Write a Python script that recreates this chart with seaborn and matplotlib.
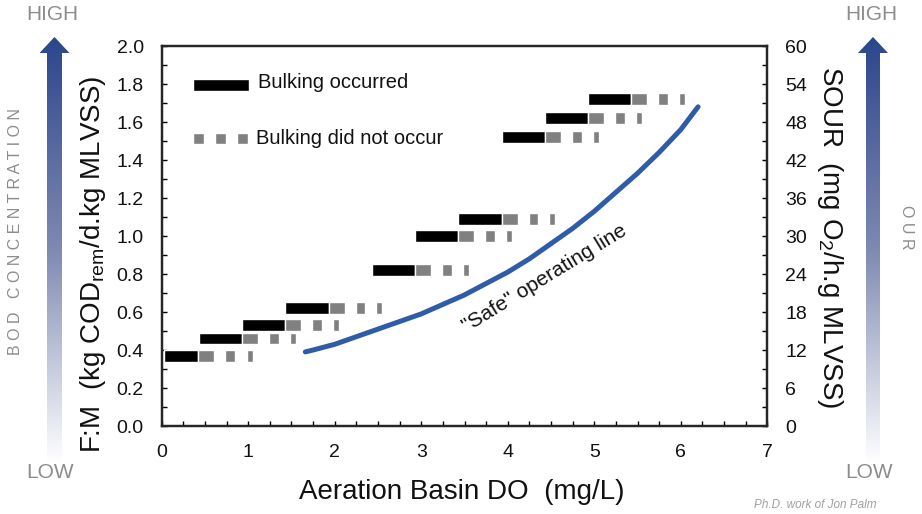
import numpy as np
import pandas as pd
import matplotlib
matplotlib.use('Agg')
import matplotlib.pyplot as plt
import seaborn as sns
from matplotlib.colors import LinearSegmentedColormap
from matplotlib.patches import Polygon
from matplotlib.ticker import MultipleLocator, FormatStrFormatter

# ---------------- data ----------------
fm_levels = [0.37, 0.46, 0.53, 0.62, 0.82, 1.00, 1.09, 1.52, 1.62, 1.72]
bulk_start = [0.03, 0.43, 0.93, 1.43, 2.43, 2.93, 3.43, 3.93, 4.43, 4.93]
bulk_end = [0.42, 0.93, 1.43, 1.93, 2.93, 3.43, 3.93, 4.43, 4.93, 5.43]
nobulk_end = [1.05, 1.55, 2.05, 2.55, 3.55, 4.05, 4.55, 5.05, 5.55, 6.05]

safe_do = [1.66, 1.75, 2.0, 2.25, 2.5, 2.75, 3.0, 3.25, 3.5, 3.75, 4.0, 4.25,
           4.5, 4.75, 5.0, 5.25, 5.5, 5.75, 6.0, 6.2]
safe_fm = [0.39, 0.40, 0.43, 0.47, 0.51, 0.55, 0.59, 0.64, 0.69, 0.75, 0.81, 0.88,
           0.96, 1.04, 1.13, 1.23, 1.33, 1.44, 1.56, 1.68]

x_ticks = [0, 1, 2, 3, 4, 5, 6, 7]
fm_ticks = [0.0, 0.2, 0.4, 0.6, 0.8, 1.0, 1.2, 1.4, 1.6, 1.8, 2.0]
sour_ticks = [0, 6, 12, 18, 24, 30, 36, 42, 48, 54, 60]

# ---------------- style ----------------
sns.set_style('ticks')
plt.rcParams['font.family'] = ['Liberation Sans', 'DejaVu Sans']
plt.rcParams['mathtext.fontset'] = 'custom'
plt.rcParams['mathtext.rm'] = 'Liberation Sans'
plt.rcParams['mathtext.it'] = 'Liberation Sans:italic'
plt.rcParams['mathtext.default'] = 'regular'

W, H = 922, 514
fig = plt.figure(figsize=(W / 100, H / 100), dpi=100)
fig.patch.set_facecolor('white')

# background axes in pixel coordinates for decorations
bg = fig.add_axes([0, 0, 1, 1], zorder=-1)
bg.set_xlim(0, W)
bg.set_ylim(H, 0)
bg.axis('off')

cmap = LinearSegmentedColormap.from_list('arrow', ['#2A468C', '#7F8AB2', '#FFFFFF'])
grad = np.linspace(0, 1, 256)[:, None]


def gradient_arrow(cx, shaft_w, head_w, tip, head_base, bottom):
    pts = [(cx - shaft_w / 2, bottom), (cx - shaft_w / 2, head_base),
           (cx - head_w / 2, head_base), (cx, tip), (cx + head_w / 2, head_base),
           (cx + shaft_w / 2, head_base), (cx + shaft_w / 2, bottom)]
    poly = Polygon(pts, closed=True, facecolor='none', edgecolor='none',
                   transform=bg.transData)
    bg.add_patch(poly)
    im = bg.imshow(grad, extent=(cx - head_w / 2, cx + head_w / 2, bottom, tip),
                   cmap=cmap, aspect='auto', origin='upper', interpolation='bilinear')
    im.set_clip_path(poly)


gradient_arrow(54.5, 15, 30, 37, 53, 463)
gradient_arrow(873, 14, 30, 37, 53, 463)

gray_txt = '#8C8C8C'
bg.text(52, 15, 'HIGH', ha='center', va='center', fontsize=15, color=gray_txt)
bg.text(50, 473, 'LOW', ha='center', va='center', fontsize=15, color=gray_txt)
bg.text(871, 15, 'HIGH', ha='center', va='center', fontsize=15, color=gray_txt)
bg.text(869, 472, 'LOW', ha='center', va='center', fontsize=15, color=gray_txt)
bg.text(15.5, 232, 'B O D   C O N C E N T R A T I O N', ha='center', va='center',
        rotation=90, fontsize=11.5, color=gray_txt)
bg.text(906, 227, 'O U R', ha='center', va='center', rotation=-90,
        fontsize=11.5, color=gray_txt)
bg.text(876, 505, 'Ph.D. work of Jon Palm', ha='right', va='center',
        fontsize=8.5, style='italic', color='#A0A0A0')

# ---------------- main axes ----------------
ax = fig.add_axes([0.1754, 0.1712, 0.6568, 0.7393])
ax.set_facecolor('white')
ax.set_xlim(0, 7)
ax.set_ylim(0, 2.0)

bar_h = 0.062
dash_frac = [(0.0, 0.297), (0.5, 0.686), (0.89, 1.0)]
for fm, s, e, ne in zip(fm_levels, bulk_start, bulk_end, nobulk_end):
    ax.broken_barh([(s, e - s)], (fm - bar_h / 2, bar_h), facecolors='black', zorder=3)
    span = ne - e
    segs = [(e + a * span, (b - a) * span) for a, b in dash_frac]
    ax.broken_barh(segs, (fm - bar_h / 2, bar_h), facecolors='#808080', zorder=3)

safe_df = pd.DataFrame({'do': safe_do, 'fm': safe_fm})
sns.lineplot(data=safe_df, x='do', y='fm', ax=ax, color='#2F5CA8', linewidth=3.6,
             solid_capstyle='round', solid_joinstyle='round', zorder=4, sort=False)

ax.text(4.43, 0.775, '"Safe" operating line', rotation=31.5, ha='center', va='center',
        fontsize=15, color='#111111', rotation_mode='anchor')

# manual legend
ax.broken_barh([(0.365, 0.648)], (1.794 - bar_h / 2, bar_h), facecolors='black')
ax.text(1.113, 1.808, 'Bulking occurred', ha='left', va='center', fontsize=14.5, color='#111111')
leg_gray = [(0.365, 0.12), (0.62, 0.12), (0.875, 0.12)]
ax.broken_barh(leg_gray, (1.513 - bar_h / 2, bar_h), facecolors='#808080')
ax.text(1.09, 1.513, 'Bulking did not occur', ha='left', va='center', fontsize=14.5, color='#111111')

ax.set_xticks(x_ticks)
ax.set_xticklabels([str(v) for v in x_ticks])
ax.xaxis.set_minor_locator(MultipleLocator(0.25))
ax.set_yticks(fm_ticks)
ax.yaxis.set_major_formatter(FormatStrFormatter('%.1f'))
ax.yaxis.set_minor_locator(MultipleLocator(0.1))
ax.tick_params(axis='both', which='both', direction='in', length=3.8, width=1.0,
               colors='black', labelsize=14, pad=13, right=False, top=False)
ax.tick_params(axis='both', labelcolor='#111111')

for sp in ax.spines.values():
    sp.set_visible(True)
    sp.set_linewidth(1.6)
    sp.set_color('black')

ax.set_xlabel('Aeration Basin DO  (mg/L)', fontsize=20, color='#111111', va='center')
ax.xaxis.set_label_coords(0.495, -0.174)
ax.set_ylabel('F:M  (kg COD$_{\\mathrm{rem}}$/d.kg MLVSS)', fontsize=20, color='#111111', va='center')
ax.yaxis.set_label_coords(-0.1134, 0.424)

ax2 = ax.twinx()
ax2.set_ylim(0, 60)
ax2.set_yticks(sour_ticks)
ax2.yaxis.set_minor_locator(MultipleLocator(3))
ax2.tick_params(axis='y', which='both', direction='in', length=3.8, width=1.0,
                colors='black', labelsize=14, pad=13, labelcolor='#111111')
for sp in ax2.spines.values():
    sp.set_linewidth(1.6)
ax2.set_ylabel('SOUR  (mg O$_{2}$/h.g MLVSS)', fontsize=20, rotation=-90,
               color='#111111', va='center')
ax2.yaxis.set_label_coords(1.1035, 0.496)

fig.savefig('out.png', dpi=100, facecolor='white')
